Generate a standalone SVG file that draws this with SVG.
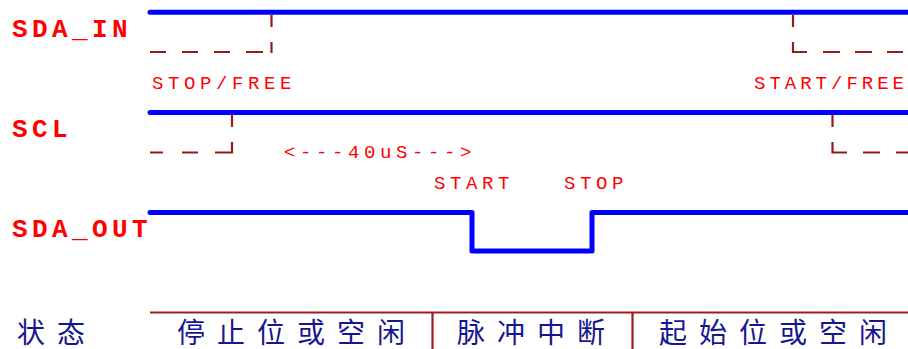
<svg xmlns="http://www.w3.org/2000/svg" width="908" height="349" viewBox="0 0 908 349">
<style>
.sig{font-family:"Liberation Mono","DejaVu Sans Mono",monospace;font-weight:bold;font-size:26px;fill:#ff0000;letter-spacing:4.4px}
.lbl{font-family:"Liberation Mono","DejaVu Sans Mono",monospace;font-size:19px;fill:#ff0000;letter-spacing:4.6px}
.cn{font-family:"Liberation Sans","Noto Sans CJK SC",sans-serif;font-size:28px;fill:#161690;letter-spacing:12px}
.wave{fill:none;stroke:#0000ff;stroke-width:5;stroke-linejoin:round;stroke-linecap:round}
.dash{fill:none;stroke:#961c1c;stroke-width:2.2}
.rule{fill:none;stroke:#a01c1c;stroke-width:2.2}
</style>
<rect width="908" height="349" fill="#ffffff"/>
<g id="labels">
<text class="sig" x="12" y="37">SDA_IN</text>
<text class="sig" x="12" y="137">SCL</text>
<text class="sig" x="12" y="237">SDA_OUT</text>
</g>
<g id="sda_in">
<path class="wave" d="M150,12.3 H910"/>
</g>
<g id="scl">
<path class="wave" d="M150,112.5 H910"/>
</g>
<g id="sda_out">
<path class="wave" d="M150,212.5 H472 V251 H592 V212.5 H910"/>
</g>
<g id="connectors">
<path class="dash" d="M150,52 H166 M182,52 H198 M214,52 H230 M246,52 H263 M271.5,15 V27 M271.5,42 V53"/>
<path class="dash" d="M793,15 V27 M793,42 V52 H807 M823,52 H840 M855,52 H872 M887,52 H903"/>
<path class="dash" d="M150,152.5 H163 M182,152.5 H198 M215,152.5 H232 V142 M232,127 V114"/>
<path class="dash" d="M832.5,115 V127 M832.5,142 V152.5 H847 M863,152.5 H880 M896,152.5 H910"/>
<path class="rule" d="M150,312.5 H910 M432.5,312.5 V350 M632.5,312.5 V350"/>
</g>
<g id="annotations">
<text class="lbl" x="152" y="89">STOP/FREE</text>
<text class="lbl" x="754" y="89" style="letter-spacing:4px">START/FREE</text>
<text class="lbl" x="284" y="158">&lt;---40uS---&gt;</text>
<text class="lbl" x="434" y="189">START</text>
<text class="lbl" x="564" y="189">STOP</text>
</g>
<g id="states">
<text class="cn" x="17" y="343">状态</text>
<text class="cn" x="177" y="343">停止位或空闲</text>
<text class="cn" x="457" y="343">脉冲中断</text>
<text class="cn" x="659" y="343">起始位或空闲</text>
</g>
</svg>
